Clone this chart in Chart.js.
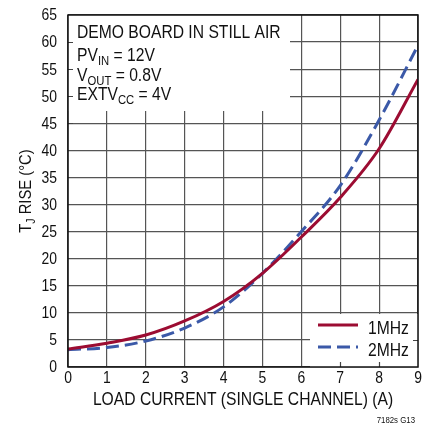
<!DOCTYPE html>
<html>
<head>
<meta charset="utf-8">
<script src="https://cdn.jsdelivr.net/npm/chart.js@4"></script>
<style>
  html, body { margin: 0; padding: 0; background: #fff; }
  #contenedor { width: 424px; height: 434px; position: relative; }
</style>
</head>
<body>
<div id="contenedor"><canvas id="grafico"></canvas></div>
<script>
// Datos
const corriente = [0, 1, 2, 3, 4, 5, 6, 7, 8, 9];
const subida1MHz = [3.3, 4.4, 5.9, 8.5, 12.1, 17.3, 24.0, 31.3, 40.3, 53.1];
const subida2MHz = [3.2, 3.6, 4.8, 7.2, 11.1, 17.3, 25.0, 33.5, 45.6, 59.4];
const etiquetas = ['1MHz', '2MHz'];
const notas = [
    [['DEMO BOARD IN STILL AIR', false]],
    [['PV', false], ['IN', true], [' = 12V', false]],
    [['V', false], ['OUT', true], [' = 0.8V', false]],
    [['EXTV', false], ['CC', true], [' = 4V', false]]
];

// no hay fuente estrecha instalada: se comprime Liberation Sans a mano
const FUENTE = '"Liberation Sans", Arial, sans-serif';
const ESTRECHO = 0.87;
const ROJO = '#9c0c32';
const AZUL = '#3b59a8';

function puntos(ys) {
    return corriente.map((x, i) => ({ x: x, y: ys[i] }));
}

function anchoPartes(ctx, partes, tam, tamSub) {
    let w = 0;
    partes.forEach(([t, sub]) => {
        ctx.font = (sub ? tamSub : tam) + 'px ' + FUENTE;
        w += ctx.measureText(t).width;
    });
    return w * ESTRECHO;
}

// escribe texto (con subindices) comprimido; alinea segun 'alin'
function escribir(ctx, partes, x, y, tam, tamSub, alin) {
    const w = anchoPartes(ctx, partes, tam, tamSub);
    let x0 = x;
    if (alin === 'center') x0 = x - w / 2;
    if (alin === 'right') x0 = x - w;
    ctx.save();
    ctx.translate(x0, y);
    ctx.scale(ESTRECHO, 1);
    ctx.textAlign = 'left';
    let cx = 0;
    partes.forEach(([t, sub]) => {
        ctx.font = (sub ? tamSub : tam) + 'px ' + FUENTE;
        ctx.fillText(t, cx, sub ? 4 : 0);
        cx += ctx.measureText(t).width;
    });
    ctx.restore();
}

const extras = {
    id: 'extras',
    beforeDatasetsDraw(chart) {
        const ctx = chart.ctx;
        const a = chart.chartArea;
        const sx = chart.scales.x, sy = chart.scales.y;
        ctx.save();

        // caja de notas arriba a la izquierda y caja de la leyenda
        ctx.fillStyle = '#fff';
        ctx.fillRect(a.left, a.top, 290 - a.left, 111 - a.top);
        ctx.fillRect(310, 314, a.right - 310, a.bottom - 314);

        // marcas cortas en los bordes tapados
        ctx.strokeStyle = '#444';
        ctx.lineWidth = 1.2;
        ctx.beginPath();
        [45, 50, 55, 60].forEach(v => {
            const y = Math.round(sy.getPixelForValue(v)) + 0.5;
            ctx.moveTo(a.left, y); ctx.lineTo(a.left + 5, y);
        });
        const y5 = Math.round(sy.getPixelForValue(5)) + 0.5;
        ctx.moveTo(a.right - 5, y5); ctx.lineTo(a.right, y5);
        [7, 8].forEach(v => {
            const x = Math.round(sx.getPixelForValue(v)) + 0.5;
            ctx.moveTo(x, a.bottom - 5); ctx.lineTo(x, a.bottom);
        });
        ctx.stroke();

        ctx.fillStyle = '#111';
        ctx.textBaseline = 'alphabetic';
        const bases = [38, 61, 81, 100];
        notas.forEach((linea, i) => escribir(ctx, linea, 77, bases[i], 18, 13, 'left'));

        // leyenda
        chart.data.datasets.forEach((ds, i) => {
            const y = 325 + i * 22;
            ctx.strokeStyle = ds.borderColor;
            ctx.lineWidth = 3;
            ctx.setLineDash(ds.borderDash || []);
            ctx.beginPath();
            ctx.moveTo(318, y); ctx.lineTo(358, y);
            ctx.stroke();
            ctx.setLineDash([]);
            ctx.fillStyle = '#111';
            ctx.textBaseline = 'alphabetic';
            escribir(ctx, [[ds.label, false]], 368, y + 9, 18, 13, 'left');
        });
        ctx.restore();
    },
    afterDraw(chart) {
        const ctx = chart.ctx;
        const a = chart.chartArea;
        const sx = chart.scales.x, sy = chart.scales.y;
        ctx.save();
        ctx.strokeStyle = '#111';
        ctx.lineWidth = 1.5;
        ctx.strokeRect(a.left, a.top, a.right - a.left, a.bottom - a.top);

        // etiquetas de las marcas
        ctx.fillStyle = '#111';
        ctx.textBaseline = 'middle';
        sy.ticks.forEach(t => {
            escribir(ctx, [[String(t.value), false]], a.left - 11, sy.getPixelForValue(t.value) + 1, 16, 12, 'right');
        });
        sx.ticks.forEach(t => {
            escribir(ctx, [[String(t.value), false]], sx.getPixelForValue(t.value), 379, 16, 12, 'center');
        });

        // titulos de ejes
        ctx.textBaseline = 'alphabetic';
        escribir(ctx, [['LOAD CURRENT (SINGLE CHANNEL) (A)', false]], (a.left + a.right) / 2, 405, 18, 13, 'center');

        ctx.translate(31, (a.top + a.bottom) / 2);
        ctx.rotate(-Math.PI / 2);
        escribir(ctx, [['T', false], ['J', true], [' RISE (°C)', false]], 0, 0, 17, 12, 'center');
        ctx.setTransform(1, 0, 0, 1, 0, 0);

        escribir(ctx, [['7182s G13', false]], 415, 423, 9, 7, 'right');
        ctx.restore();
    }
};

new Chart(document.getElementById('grafico'), {
    type: 'line',
    data: {
        datasets: [
            { label: etiquetas[0], data: puntos(subida1MHz), borderColor: ROJO, borderWidth: 3,
              pointRadius: 0, cubicInterpolationMode: 'monotone', fill: false },
            { label: etiquetas[1], data: puntos(subida2MHz), borderColor: AZUL, borderWidth: 3,
              borderDash: [13, 6], pointRadius: 0, cubicInterpolationMode: 'monotone', fill: false }
        ]
    },
    options: {
        responsive: true,
        maintainAspectRatio: false,
        animation: false,
        layout: { padding: { top: 15, right: 6, left: 0, bottom: 0 } },
        plugins: { legend: { display: false }, tooltip: { enabled: false } },
        scales: {
            x: {
                type: 'linear', min: 0, max: 9,
                afterFit: s => { s.height = 67; },
                grid: { color: '#555', lineWidth: 1.2, drawTicks: false },
                border: { display: false },
                ticks: { stepSize: 1, display: false }
            },
            y: {
                min: 0, max: 65,
                afterFit: s => { s.width = 68; },
                grid: { color: '#555', lineWidth: 1.2, drawTicks: false },
                border: { display: false },
                ticks: { stepSize: 5, display: false }
            }
        }
    },
    plugins: [extras]
});
</script>
</body>
</html>
